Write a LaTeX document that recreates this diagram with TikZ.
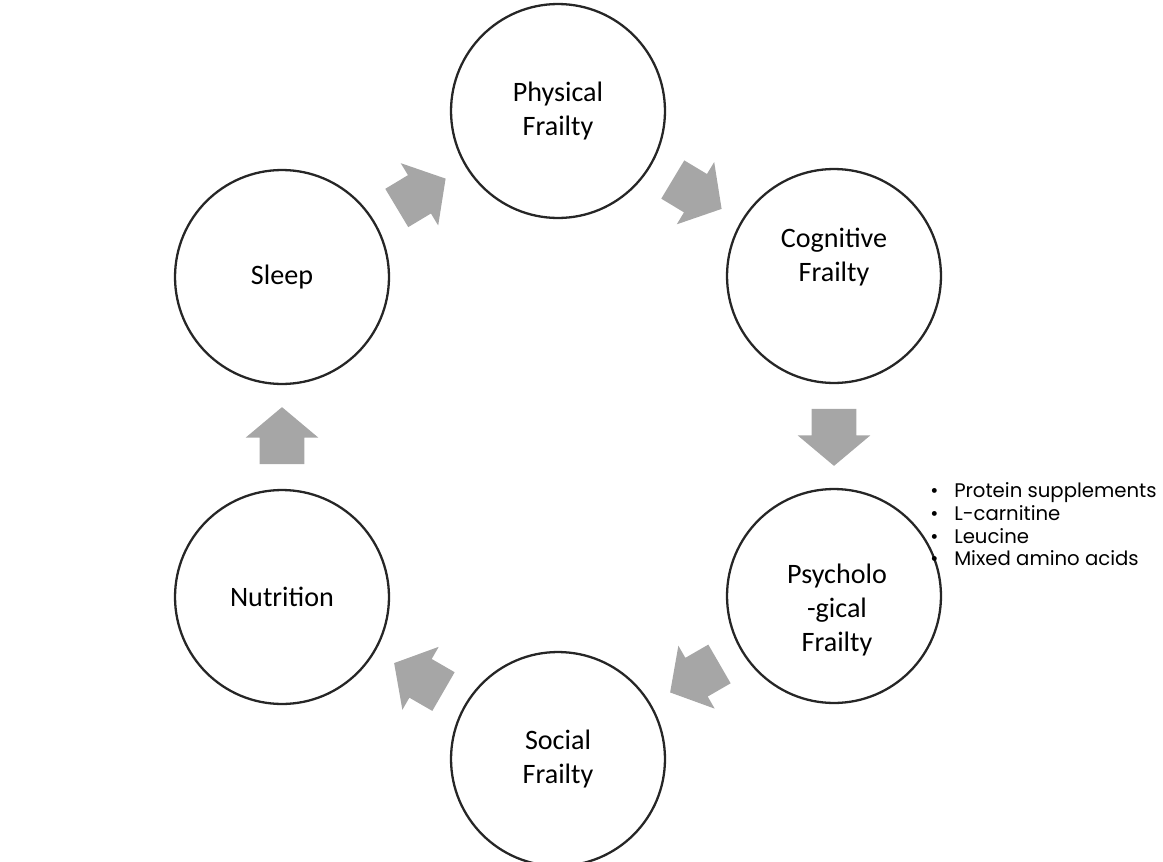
\documentclass[tikz,border=0pt]{standalone}
\usepackage{fontspec}
\setmainfont{Carlito}
\newfontfamily\listfont{Poppins}
\usetikzlibrary{shapes.arrows, calc}

\begin{document}
\begin{tikzpicture}[x=0.02cm, y=-0.02cm,
    every node/.style={font=\fontsize{16}{19.5}\selectfont, align=center},
    circ/.style={circle, draw=black!85, line width=1.3pt, minimum size=4.28cm, inner sep=0pt},
    blk/.style={single arrow, fill=black!35, draw=none, minimum height=1.14cm,
                inner xsep=0pt, inner ysep=0.44cm, single arrow head extend=0.28cm,
                single arrow tip angle=100}
  ]
    \useasboundingbox (0,0) rectangle (1163,862);
    \clip (0,0) rectangle (1163,862);

    % frailty cycle
    \node[circ] (phys) at (558,111) {Physical\\Frailty};
    \node[circ, label={[yshift=0.38cm]center:Cognitive\\Frailty}] (cog) at (834,276) {};
    \node[circ, label={[xshift=0.06cm, yshift=-0.28cm]center:Psycholo\\-gical\\Frailty}] (psy) at (834,596) {};
    \node[circ] (soc) at (558,759) {Social\\Frailty};
    \node[circ] (nut) at (282,597) {Nutrition};
    \node[circ] (sleep) at (282,277) {Sleep};

    % block arrows between circles
    \foreach \a/\b/\ang in {sleep/phys/31, phys/cog/-31, cog/psy/-90,
                            psy/soc/210, soc/nut/150, nut/sleep/90}
      \node[blk, rotate=\ang, xshift=-0.16cm] (arr-\a) at ($(\a)!0.5!(\b)$) {};

    % supplements list
    \node[anchor=north west, align=left, inner sep=0pt,
          font=\listfont\fontsize{11.2}{13}\selectfont]
      (supp) at (930,482) {%
        \makebox[13.6pt][l]{\textbullet}Protein supplements\\
        \makebox[13.6pt][l]{\textbullet}L-carnitine\\
        \makebox[13.6pt][l]{\textbullet}Leucine\\
        \makebox[13.6pt][l]{\textbullet}Mixed amino acids};
\end{tikzpicture}
\end{document}
